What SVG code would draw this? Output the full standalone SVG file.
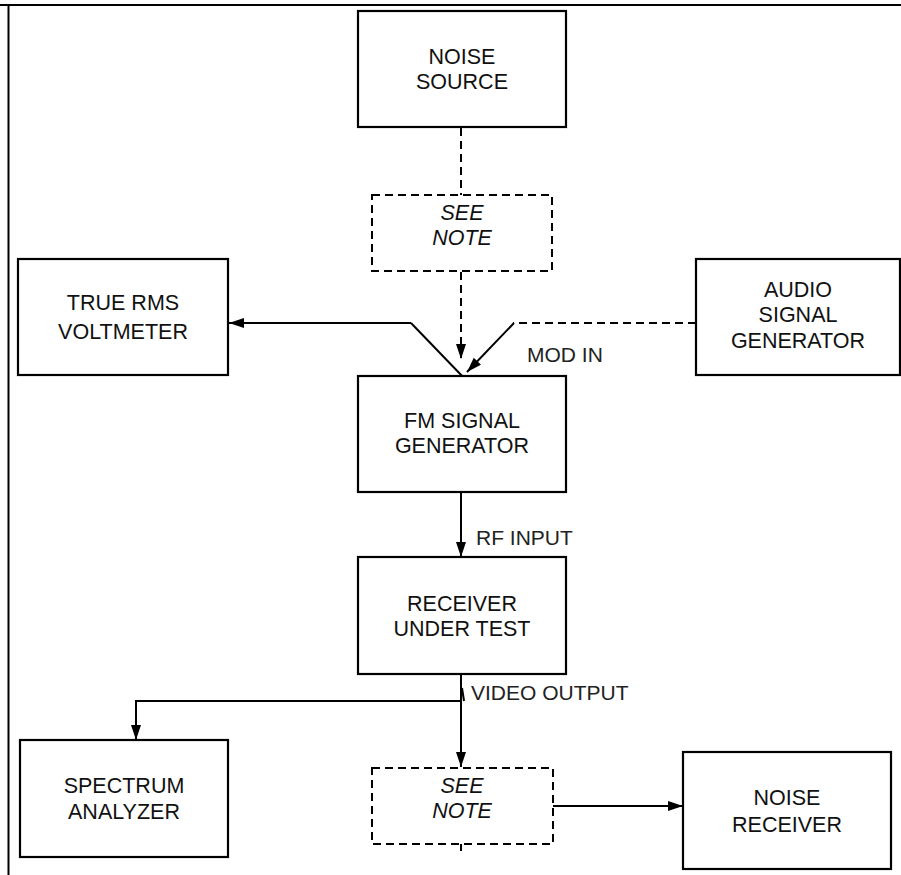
<svg xmlns="http://www.w3.org/2000/svg" width="901" height="875" viewBox="0 0 901 875">
<style>
.box{fill:#fff;stroke:#000;stroke-width:2.2}
.dbox{fill:#fff;stroke:#000;stroke-width:2;stroke-dasharray:8 5}
.t{font-family:"Liberation Sans",Arial,sans-serif;font-size:21.5px;fill:#111;text-anchor:middle}
.i{font-style:italic}
.lbl{font-family:"Liberation Sans",Arial,sans-serif;font-size:21px;fill:#222}
.ln{fill:none;stroke:#000;stroke-width:2}
.dl{fill:none;stroke:#000;stroke-width:2;stroke-dasharray:8 5}
</style>
<defs>
<marker id="ah" markerUnits="userSpaceOnUse" markerWidth="16" markerHeight="11" refX="15" refY="5" orient="auto">
<path d="M0,0 L15,5 L0,10 z" fill="#000"/>
</marker>
</defs>
<rect width="901" height="875" fill="#fff"/>
<g id="frame">
<line x1="0" y1="5" x2="901" y2="5" stroke="#000" stroke-width="2"/>
<line x1="8.5" y1="4" x2="8.5" y2="875" stroke="#000" stroke-width="2"/>
</g>
<g id="connectors">
<line class="dl" x1="461" y1="128" x2="461" y2="195"/>
<line class="dl" x1="461" y1="272" x2="461" y2="359" marker-end="url(#ah)"/>
<line class="ln" x1="411" y1="323" x2="229" y2="323" marker-end="url(#ah)"/>
<line class="ln" x1="411" y1="323" x2="465" y2="379"/>
<line class="dl" x1="696" y1="323" x2="513" y2="323"/>
<line class="ln" x1="514" y1="323" x2="467" y2="372" marker-end="url(#ah)"/>
<line class="ln" x1="461" y1="493" x2="461" y2="557" marker-end="url(#ah)"/>
<line class="ln" x1="461" y1="675" x2="461" y2="767" marker-end="url(#ah)"/>
<polyline class="ln" points="461,701 136,701 136,740" marker-end="url(#ah)"/>
<line class="ln" x1="462" y1="688" x2="464" y2="701"/>
<line class="ln" x1="461" y1="844" x2="461" y2="851"/>
<line class="ln" x1="553" y1="806" x2="683" y2="806" marker-end="url(#ah)"/>
</g>
<g id="noise-source">
<rect class="box" x="358" y="11" width="208" height="116"/>
<text class="t" x="462" y="64">NOISE</text>
<text class="t" x="462" y="89">SOURCE</text>
</g>
<g id="see-note-top">
<rect class="dbox" x="372" y="195" width="180" height="76"/>
<text class="t i" x="462" y="220">SEE</text>
<text class="t i" x="462" y="245">NOTE</text>
</g>
<g id="true-rms-voltmeter">
<rect class="box" x="18" y="259" width="210" height="116"/>
<text class="t" x="123" y="310">TRUE RMS</text>
<text class="t" x="123" y="339">VOLTMETER</text>
</g>
<g id="audio-signal-generator">
<rect class="box" x="696" y="259" width="204" height="116"/>
<text class="t" x="798" y="297">AUDIO</text>
<text class="t" x="798" y="322">SIGNAL</text>
<text class="t" x="798" y="348">GENERATOR</text>
</g>
<g id="fm-signal-generator">
<rect class="box" x="358" y="376" width="208" height="116"/>
<text class="t" x="462" y="428">FM SIGNAL</text>
<text class="t" x="462" y="453">GENERATOR</text>
</g>
<g id="receiver-under-test">
<rect class="box" x="358" y="557" width="208" height="117"/>
<text class="t" x="462" y="611">RECEIVER</text>
<text class="t" x="462" y="636">UNDER TEST</text>
</g>
<g id="spectrum-analyzer">
<rect class="box" x="20" y="740" width="208" height="117"/>
<text class="t" x="124" y="793">SPECTRUM</text>
<text class="t" x="124" y="819">ANALYZER</text>
</g>
<g id="see-note-bottom">
<rect class="dbox" x="372" y="768" width="181" height="76"/>
<text class="t i" x="462" y="793">SEE</text>
<text class="t i" x="462" y="818">NOTE</text>
</g>
<g id="noise-receiver">
<rect class="box" x="683" y="752" width="208" height="117"/>
<text class="t" x="787" y="805">NOISE</text>
<text class="t" x="787" y="832">RECEIVER</text>
</g>
<g id="labels">
<text class="lbl" x="527" y="362">MOD IN</text>
<text class="lbl" x="476" y="545">RF INPUT</text>
<text class="lbl" x="471" y="700">VIDEO OUTPUT</text>
</g>
</svg>
